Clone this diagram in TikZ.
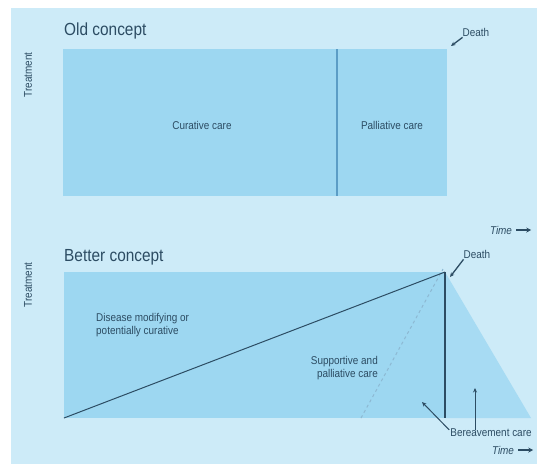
\documentclass[tikz,border=0pt]{standalone}
\usepackage{fontspec}
\setmainfont[FakeStretch=0.88]{Liberation Sans}
\usetikzlibrary{arrows.meta}
\definecolor{panelblue}{HTML}{CDEBF8}
\definecolor{boxblue}{HTML}{9DD7F1}
\definecolor{wedgeblue}{HTML}{A7DBF3}
\definecolor{inkblue}{HTML}{2C4C63}
\definecolor{dividerblue}{HTML}{5B9DC6}
\definecolor{dashblue}{HTML}{8DB9D3}
\tikzset{
  smalltext/.style={font=\fontsize{11.3}{13}\selectfont, text=inkblue, inner sep=0pt},
  titletext/.style={font=\fontsize{17.5}{20}\selectfont, text=inkblue, inner sep=0pt, anchor=base west},
  timetext/.style={smalltext, font=\fontsize{11.3}{13}\selectfont\itshape},
  pointer/.style={draw=inkblue, line width=1pt, -{Stealth[length=4.5pt,width=4pt]}},
  timepointer/.style={draw=inkblue, line width=1.6pt, -{Stealth[length=5pt,width=5pt]}},
}
\begin{document}
\begin{tikzpicture}[x=1pt,y=-1pt]
  \useasboundingbox (0,0) rectangle (537,464);
  \fill[white] (0,0) rectangle (537,464);
  \fill[panelblue] (11,8) rectangle (537,464);
  % old concept
  \fill[boxblue]
    (63,49)
    rectangle
    (447,196);
  \draw[dividerblue, line width=1.6pt]
    (337,49)
    --
    (337,196);
  \coordinate (oldcorner) at (451,46);
  \node[titletext] (oldtitle) at (64,35) {Old concept};
  \node[smalltext, rotate=90] (oldtreat) at (28,75) {Treatment};
  \node[smalltext] (curative) at (202,125) {Curative care};
  \node[smalltext] (palliative) at (392,125) {Palliative care};
  \node[smalltext] (olddeath) at (476,32) {Death};
  \node[timetext] (oldtime) at (501,230) {Time};
  \draw[pointer, line width=1.3pt]
    ([shift={(0pt,-1pt)}]olddeath.south west)
    --
    (oldcorner);
  \draw[timepointer]
    ([xshift=4pt]oldtime.east)
    --
    ++(15,0);
  % better concept
  \fill[boxblue]
    (64,272)
    rectangle
    (445,418);
  \fill[wedgeblue]
    (445,272)
    --
    (531,418)
    --
    (445,418)
    --
    cycle;
  \coordinate (start) at (64,418);
  \coordinate (apex) at (445,272);
  \coordinate (base) at (445,418);
  \coordinate (dashstart) at (361,418);
  \coordinate (leftarrowtip) at (422,402);
  \coordinate (uparrowtip) at (475,388);
  \draw[dashblue, dashed, line width=1pt]
    (dashstart)
    --
    ([xshift=-2pt,yshift=3pt]apex);
  \draw[inkblue, line width=1pt]
    (start)
    --
    (apex);
  \draw[inkblue, line width=1.5pt]
    (apex)
    --
    (base);
  \node[titletext] (bettertitle) at (64,261) {Better concept};
  \node[smalltext, rotate=90] (bettertreat) at (28,285) {Treatment};
  \node[smalltext, align=left, anchor=north west] (disease) at (96,313)
    {Disease modifying or\\potentially curative};
  \node[smalltext, align=right, anchor=east] (supportive) at (378,368)
    {Supportive and\\palliative care};
  \node[smalltext] (betterdeath) at (477,254) {Death};
  \node[smalltext] (bereave) at (491,433) {Bereavement care};
  \node[timetext] (bettertime) at (503,450) {Time};
  \draw[pointer, line width=1.3pt]
    ([shift={(0pt,-1pt)}]betterdeath.south west)
    --
    ([shift={(5pt,-5pt)}]apex);
  \draw[pointer]
    ([shift={(-1pt,-1pt)}]bereave.north west)
    --
    (leftarrowtip);
  \draw[pointer]
    ([yshift=-1pt]uparrowtip |- bereave.north)
    --
    (uparrowtip);
  \draw[timepointer]
    ([xshift=4pt]bettertime.east)
    --
    ++(15,0);
\end{tikzpicture}
\end{document}
